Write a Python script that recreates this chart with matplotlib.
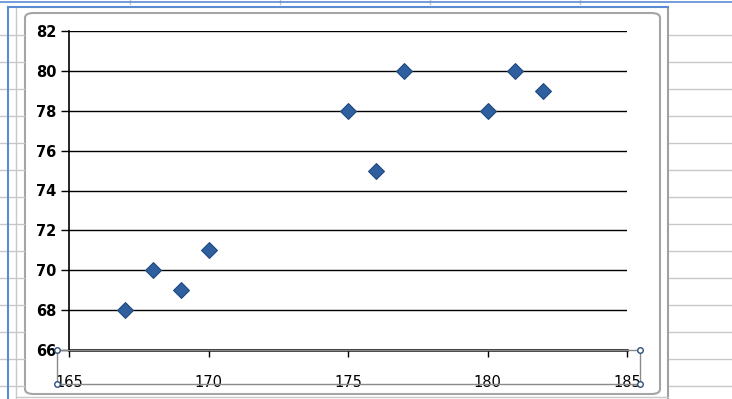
import matplotlib.pyplot as plt
from matplotlib.lines import Line2D
from matplotlib.patches import FancyBboxPatch, Rectangle

# height (cm) vs. weight-ish score
heights = [167, 168, 169, 170, 175, 176, 177, 180, 181, 182]
scores = [68, 70, 69, 71, 78, 75, 80, 78, 80, 79]
x_ticks = [165, 170, 175, 180, 185]
y_ticks = [66, 68, 70, 72, 74, 76, 78, 80, 82]

W, H = 732, 399


def px(x, y):
    """pixel position (top-left origin) to figure fraction"""
    return x / W, 1 - y / H


def hline(fig, y, x0, x1, color, lw):
    (a, b), (c, _) = px(x0, y), px(x1, y)
    fig.add_artist(Line2D([a, c], [b, b], color=color, lw=lw))


def vline(fig, x, y0, y1, color, lw):
    (a, b), (_, d) = px(x, y0), px(x, y1)
    fig.add_artist(Line2D([a, a], [b, d], color=color, lw=lw))


fig = plt.figure(figsize=(W / 100, H / 100), dpi=100)
fig.patch.set_facecolor('white')

# worksheet cells behind the chart
for y in range(35, H, 27):
    hline(fig, y, 0, 24, '#c8c8c8', 1.0)
    hline(fig, y, 668, W, '#c8c8c8', 1.0)
for x in [130, 280, 430, 580]:
    vline(fig, x, 0, 4, '#c8c8c8', 1.0)
vline(fig, 16, 8, H, '#c8c8c8', 1.0)
vline(fig, 668, 8, H, '#a0a0a0', 1.5)
hline(fig, 2, 0, W, '#5b8bd0', 1.2)
hline(fig, 7, 8, 668, '#5b8bd0', 1.5)
vline(fig, 8, 7, H, '#5b8bd0', 1.5)
hline(fig, 397, 16, 668, '#c8c8c8', 1.0)

# chart area frame
x0, y0 = px(25, 394)
x1, y1 = px(660, 13)
fig.add_artist(FancyBboxPatch((x0, y0), x1 - x0, y1 - y0,
                              boxstyle='round,pad=0,rounding_size=0.012',
                              transform=fig.transFigure, facecolor='white',
                              edgecolor='#a5a5a5', lw=1.5, zorder=0))

left, top = px(69, 31)
right, bottom = px(627, 350)
ax = fig.add_axes([left, bottom, right - left, top - bottom])
ax.set_facecolor('none')

ax.scatter(heights, scores, marker='D', s=65, color='#2f5f9e',
           edgecolor='#1f4a80', linewidth=0.8, zorder=3)

ax.set_xlim(165, 185)
ax.set_ylim(66, 82)
ax.set_xticks(x_ticks)
ax.set_yticks(y_ticks)
ax.grid(axis='y', color='black', lw=1.0)
ax.set_axisbelow(True)

for side in ['top', 'right']:
    ax.spines[side].set_visible(False)
ax.spines['left'].set_linewidth(1.2)
ax.spines['bottom'].set_linewidth(1.8)

ax.tick_params(axis='y', length=6, width=1.0, pad=3, labelsize=10.5)
ax.tick_params(axis='x', length=5, width=1.0, pad=13, labelsize=10.5)
for lbl in ax.get_yticklabels():
    lbl.set_fontweight('bold')

# selected x-axis handles
sx0, sy0 = px(57, 384)
sx1, sy1 = px(640, 350)
fig.add_artist(Rectangle((sx0, sy0), sx1 - sx0, sy1 - sy0,
                         transform=fig.transFigure, fill=False,
                         edgecolor='#8a8a8a', lw=1.0))
fig.add_artist(Line2D([sx0, sx1, sx0, sx1], [sy0, sy0, sy1, sy1],
                      ls='none', marker='o', ms=4, mfc='white',
                      mec='#2f4f7f', mew=1.0))

fig.savefig('out.png', dpi=100)
